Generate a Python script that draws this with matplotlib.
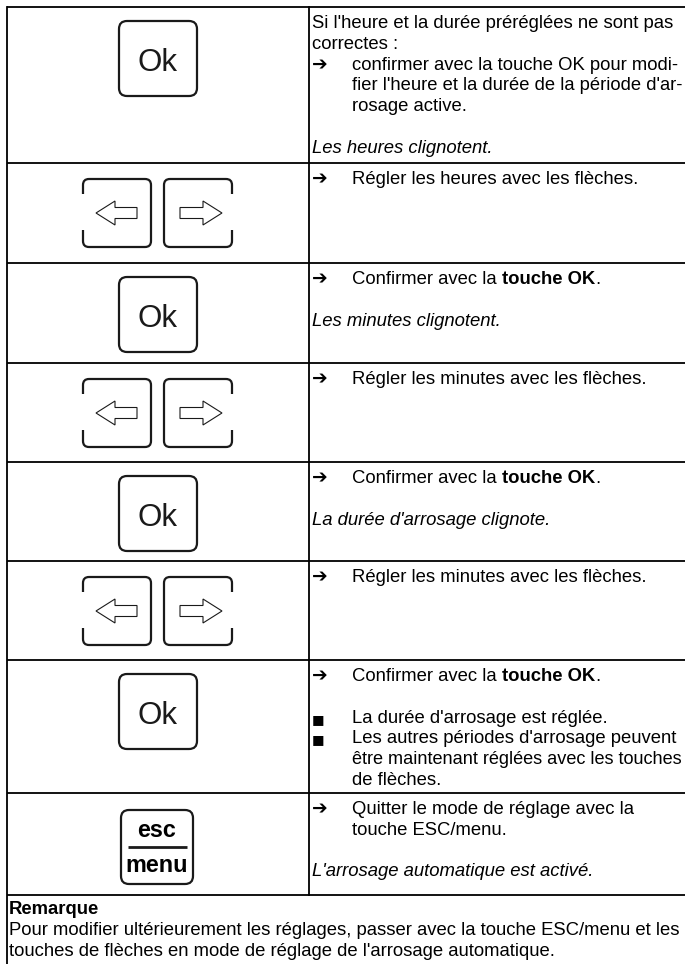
"""Step table: setting the watering period on the controller (key + instruction rows)."""

import matplotlib
matplotlib.use("Agg")
import matplotlib.pyplot as plt
from matplotlib.patches import FancyBboxPatch, PathPatch, Polygon
from matplotlib.path import Path

plt.rcParams["font.family"] = ["Liberation Sans", "DejaVu Sans"]

# ---- content -------------------------------------------------------------
# key shown in the left column of each row
ROW_KEYS = ["ok", "arrows", "ok", "arrows", "ok", "arrows", "ok", "esc"]

# right column: (marker, text, style); *...* marks bold, None text = empty line
ROW_TEXT = [
    [("", "Si l'heure et la durée préréglées ne sont pas", "normal"),
     ("", "correctes :", "normal"),
     ("arrow", "confirmer avec la touche OK pour modi-", "normal"),
     ("", "fier l'heure et la durée de la période d'ar-", "normal"),
     ("", "rosage active.", "normal"),
     ("", None, "normal"),
     ("", "Les heures clignotent.", "italic")],
    [("arrow", "Régler les heures avec les flèches.", "normal")],
    [("arrow", "Confirmer avec la *touche OK*.", "normal"),
     ("", None, "normal"),
     ("", "Les minutes clignotent.", "italic")],
    [("arrow", "Régler les minutes avec les flèches.", "normal")],
    [("arrow", "Confirmer avec la *touche OK*.", "normal"),
     ("", None, "normal"),
     ("", "La durée d'arrosage clignote.", "italic")],
    [("arrow", "Régler les minutes avec les flèches.", "normal")],
    [("arrow", "Confirmer avec la *touche OK*.", "normal"),
     ("", None, "normal"),
     ("bullet", "La durée d'arrosage est réglée.", "normal"),
     ("bullet", "Les autres périodes d'arrosage peuvent", "normal"),
     ("", "être maintenant réglées avec les touches", "normal"),
     ("", "de flèches.", "normal")],
    [("arrow", "Quitter le mode de réglage avec la", "normal"),
     ("", "touche ESC/menu.", "normal"),
     ("", None, "normal"),
     ("", "L'arrosage automatique est activé.", "italic")],
]

NOTE_TITLE = "Remarque"
NOTE_LINES = [
    "Pour modifier ultérieurement les réglages, passer avec la touche ESC/menu et les",
    "touches de flèches en mode de réglage de l'arrosage automatique.",
]

# ---- layout (pixels) -----------------------------------------------------
W, H = 685, 964
ROW_EDGES = [7, 163, 263, 363, 462, 561, 660, 793, 895]
X_LEFT, X_SPLIT = 7, 309
X_TEXT, X_INDENT = 312, 352
X_MAX = 682
LINE = 20.8
FS = 13.3  # body text, pt
LW_KEY = 1.6

fig = plt.figure(figsize=(W / 100, H / 100), dpi=100)
ax = fig.add_axes([0, 0, 1, 1])
ax.set_xlim(0, W)
ax.set_ylim(H, 0)
ax.axis("off")
renderer = fig.canvas.get_renderer()


def text_width(s, **kw):
    t = ax.text(0, 0, s, **kw)
    w = t.get_window_extent(renderer).width
    t.remove()
    return w


def rich_line(x, y, s, style, size=FS):
    # squeeze a line that would run past the table edge (the source sets it tight)
    full = text_width(s.replace("*", ""), fontsize=size, style=style)
    if x + full > X_MAX:
        size *= (X_MAX - x) / full
    space = text_width("a a", fontsize=size) - text_width("aa", fontsize=size)
    for i, piece in enumerate(s.split("*")):
        if not piece:
            continue
        kw = dict(fontsize=size, style=style, weight="bold" if i % 2 else "normal")
        ax.text(x, y, piece, va="baseline", ha="left", **kw)
        core = piece.rstrip(" ")
        x += text_width(core, **kw) + space * (len(piece) - len(core))


def key_ok(top):
    ax.add_patch(FancyBboxPatch((119, top + 14), 78, 75,
                                boxstyle="round,pad=0,rounding_size=8",
                                fill=False, lw=LW_KEY, ec="#1a1a1a"))
    ax.text(158, top + 64, "Ok", fontsize=22.5, ha="center", va="baseline", color="#1a1a1a")


def key_esc(top):
    ax.add_patch(FancyBboxPatch((121, top + 17), 72, 74,
                                boxstyle="round,pad=0,rounding_size=8",
                                fill=False, lw=LW_KEY, ec="#1a1a1a"))
    ax.text(157, top + 44, "esc", fontsize=16.8, weight="bold", ha="center", va="baseline")
    ax.plot([128, 187], [top + 54, top + 54], color="#1a1a1a", lw=2.0, solid_capstyle="butt")
    ax.text(157, top + 79, "menu", fontsize=16.8, weight="bold", ha="center", va="baseline")


def bracket(x0, x1, y0, y1, open_left, r=6):
    # key outline with a gap in the middle of one side
    g0, g1 = y0 + 15, y1 - 17
    if open_left:
        verts = [(x0, g0), (x0, y0 + r), (x0, y0), (x0 + r, y0), (x1 - r, y0), (x1, y0),
                 (x1, y0 + r), (x1, y1 - r), (x1, y1), (x1 - r, y1), (x0 + r, y1),
                 (x0, y1), (x0, y1 - r), (x0, g1)]
    else:
        verts = [(x1, g0), (x1, y0 + r), (x1, y0), (x1 - r, y0), (x0 + r, y0), (x0, y0),
                 (x0, y0 + r), (x0, y1 - r), (x0, y1), (x0 + r, y1), (x1 - r, y1),
                 (x1, y1), (x1, y1 - r), (x1, g1)]
    codes = [Path.MOVETO, Path.LINETO, Path.CURVE3, Path.CURVE3, Path.LINETO,
             Path.CURVE3, Path.CURVE3, Path.LINETO, Path.CURVE3, Path.CURVE3,
             Path.LINETO, Path.CURVE3, Path.CURVE3, Path.LINETO]
    ax.add_patch(PathPatch(Path(verts, codes), fill=False, lw=LW_KEY, ec="#1a1a1a",
                           capstyle="butt"))


def key_arrows(top):
    y0, y1 = top + 16, top + 84
    yc = (y0 + y1) / 2
    bracket(83, 151, y0, y1, open_left=True)
    bracket(164, 232, y0, y1, open_left=False)
    left = [(96, yc), (115, yc - 12), (115, yc - 5.5), (137, yc - 5.5),
            (137, yc + 5.5), (115, yc + 5.5), (115, yc + 12)]
    right = [(222, yc), (203, yc - 12), (203, yc - 5.5), (180, yc - 5.5),
             (180, yc + 5.5), (203, yc + 5.5), (203, yc + 12)]
    for pts in (left, right):
        ax.add_patch(Polygon(pts, closed=True, fill=False, lw=0.8, ec="#1a1a1a"))


KEY_DRAW = {"ok": key_ok, "esc": key_esc, "arrows": key_arrows}

# ---- grid ----------------------------------------------------------------
for y in ROW_EDGES:
    ax.plot([X_LEFT, W], [y, y], color="black", lw=1.3, solid_capstyle="butt")
ax.plot([X_LEFT, X_LEFT], [ROW_EDGES[0], H], color="black", lw=1.3)
ax.plot([X_SPLIT, X_SPLIT], [ROW_EDGES[0], ROW_EDGES[-1]], color="black", lw=1.3)

# ---- rows ----------------------------------------------------------------
for i, (key, lines) in enumerate(zip(ROW_KEYS, ROW_TEXT)):
    top = ROW_EDGES[i]
    KEY_DRAW[key](top)
    for j, (marker, s, style) in enumerate(lines):
        if s is None:
            continue
        base = top + 15 + j * LINE + 6
        if marker == "arrow":
            ax.text(X_TEXT, base + 0.5, "\u2794", fontsize=13.5, weight="bold",
                    family=["DejaVu Sans"], va="baseline", ha="left")
        elif marker == "bullet":
            ax.text(X_TEXT, base, "\u25a0", fontsize=9.5,
                    family=["DejaVu Sans"], va="baseline", ha="left")
        x = X_TEXT if (marker == "" and (i, j) in {(0, 0), (0, 1)}) or style == "italic" else X_INDENT
        rich_line(x, base, s, style)

# ---- note ----------------------------------------------------------------
note_top = ROW_EDGES[-1]
ax.text(9, note_top + 13 + 6, NOTE_TITLE, fontsize=FS, weight="bold", va="baseline")
for j, s in enumerate(NOTE_LINES):
    rich_line(9, note_top + 13 + (j + 1) * LINE + 6, s, "normal")

fig.savefig("out.png", dpi=100, facecolor="white")
